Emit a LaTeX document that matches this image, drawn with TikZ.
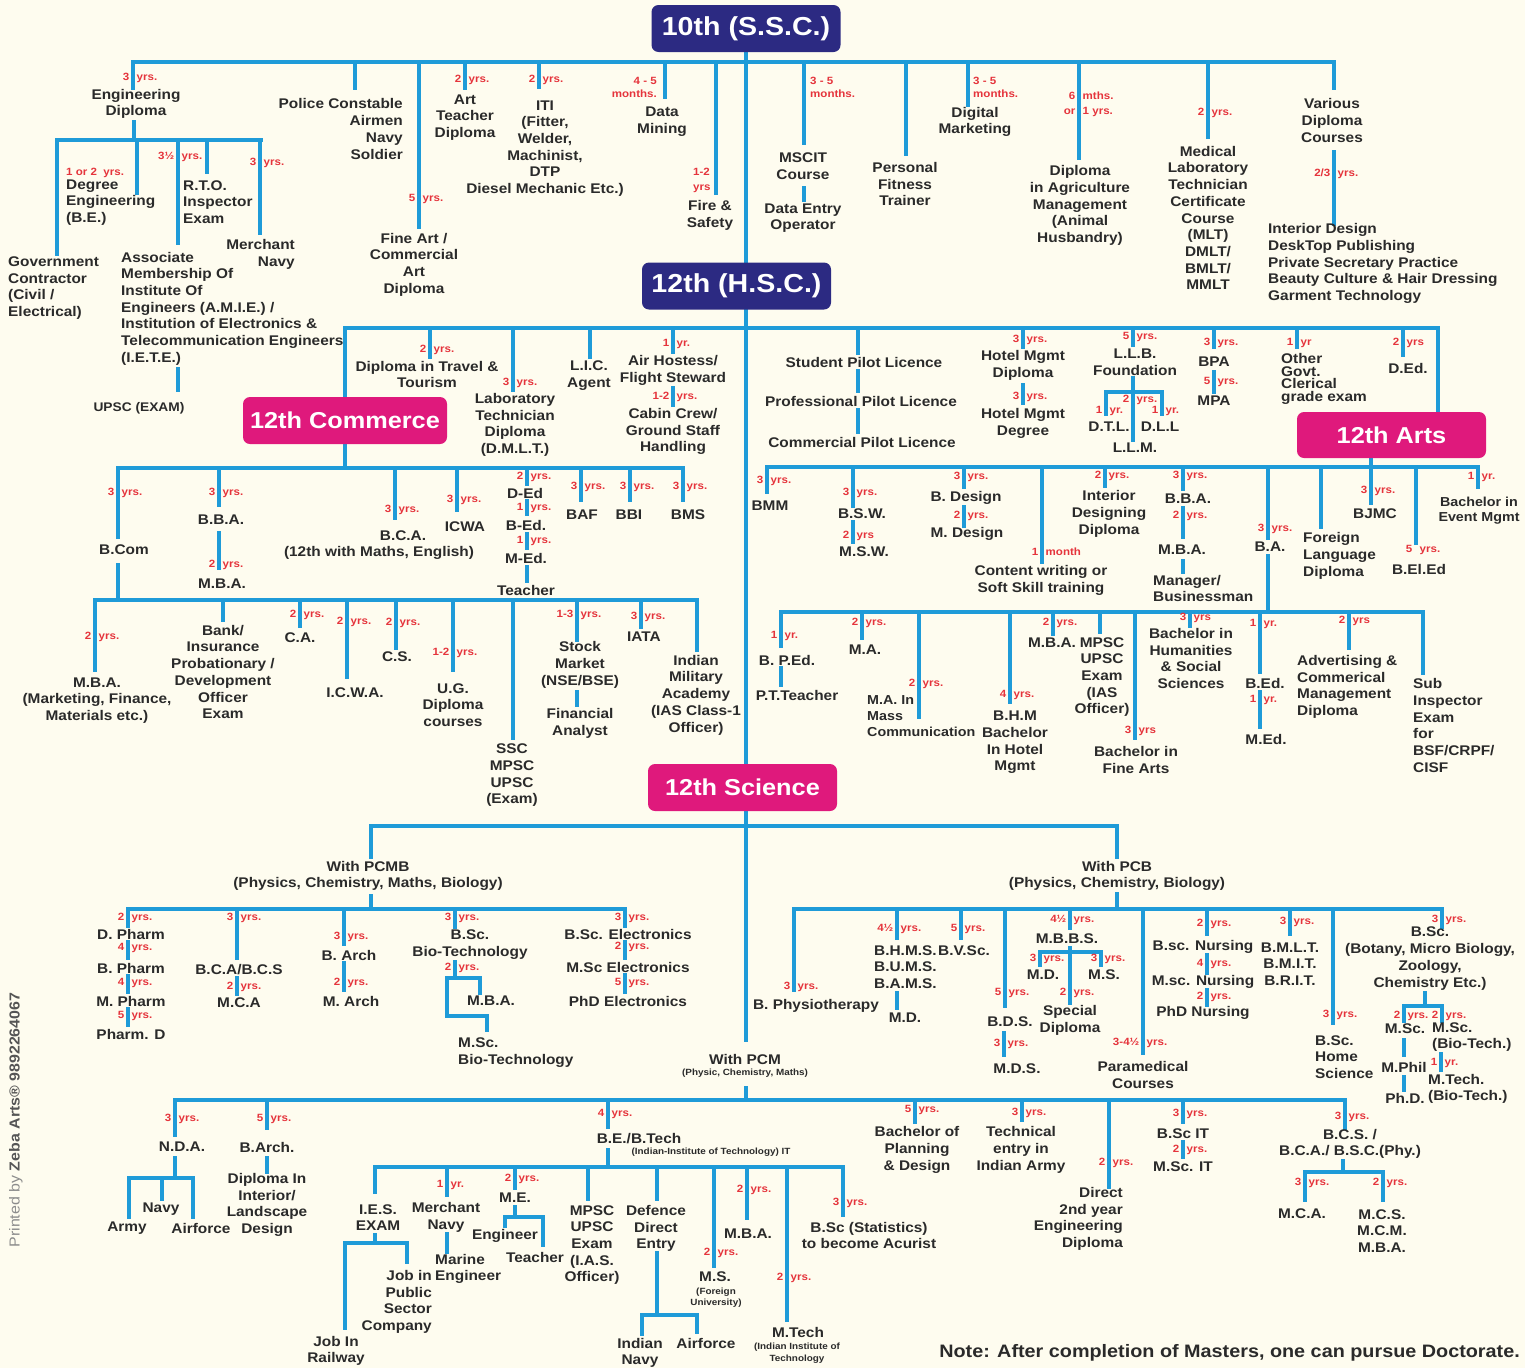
\documentclass[tikz,border=0pt]{standalone}
\usepackage{fontspec}
\setmainfont{Liberation Sans}[FakeStretch=1.1]
\definecolor{lnc}{HTML}{1F9BD8}
\definecolor{txc}{HTML}{2A2A2A}
\definecolor{rdc}{HTML}{E5343C}
\definecolor{nvc}{HTML}{2C2A82}
\definecolor{mgc}{HTML}{DF197C}
\definecolor{bgc}{HTML}{FEFCEF}
\definecolor{grc}{HTML}{8C8C8C}
\definecolor{dgc}{HTML}{555555}
\newcommand\mainf{\fontsize{14}{16.7}\selectfont\bfseries}
\newcommand\redf{\fontsize{10.5}{11.5}\selectfont\bfseries}
\newcommand\tinyf{\fontsize{9}{11.5}\selectfont\bfseries}
\newcommand\boxf{\fontsize{23}{26}\selectfont\bfseries}
\newcommand\bigboxf{\fontsize{26}{30}\selectfont\bfseries}
\newcounter{yc}
\newcommand\yl[4]{\stepcounter{yc}%
  \node[rl,anchor=east] (yn\arabic{yc}) at ({#1-3.5},#2) {#3};%
  \node[rl,anchor=west] (yu\arabic{yc}) at ({#1+3.5},#2) {#4};}
\newcommand\vl[3]{\draw[ln] (#1,#2) -- (#1,#3);}
\newcommand\hl[3]{\draw[ln] (#2,#1) -- (#3,#1);}
\newcommand\tx[5][]{\node[tb,#1] (#2) at (#3,#4) {#5};}
\tikzset{
  ln/.style={draw=lnc,line width=3.6pt,line cap=rect},
  tb/.style={font=\mainf,text=txc,align=center,inner sep=0pt},
  rl/.style={font=\redf,text=rdc,inner sep=0pt,text height=7.5pt,text depth=2pt},
  nbox/.style={fill=nvc,text=white,rounded corners=7pt,font=\bigboxf,minimum width=189pt,minimum height=47pt,inner sep=0pt},
  mbox/.style={fill=mgc,text=white,rounded corners=7pt,font=\boxf,minimum height=47pt,inner sep=0pt}
}
\begin{document}
\begin{tikzpicture}[x=1pt,y=-1pt]
\fill[bgc] (0,0) rectangle (1525,1368);
\useasboundingbox (0,0) rectangle (1525,1368);

% ---------- trunk and top bus
\vl{746}{52}{1040}
\hl{62}{133}{1334}
% Engineering diploma
\vl{133}{62}{88}
\yl{133}{78}{3}{yrs.}
\tx{engd}{136}{104}{Engineering\\Diploma}
\vl{134}{122}{140}
\hl{140}{57}{261}
\vl{57}{140}{254}
\tx[anchor=west,align=left]{govc}{8}{288}{Government\\Contractor\\(Civil /\\Electrical)}
\vl{137}{140}{193}
\node[rl,anchor=west] (deglbl) at (66,173) {1 or 2\ \ yrs.};
\tx[anchor=west,align=left]{degr}{66}{202.5}{Degree\\Engineering\\(B.E.)}
\vl{178}{140}{243}
\yl{178}{157}{3½}{yrs.}
\tx[anchor=west,align=left]{amie}{121}{308.5}{Associate\\Membership Of\\Institute Of\\Engineers (A.M.I.E.) /\\Institution of Electronics \&\\Telecommunication Engineers\\(I.E.T.E.)}
\vl{178}{369}{390}
\tx[font=\fontsize{12.5}{14}\selectfont\bfseries]{upsc1}{139}{408}{UPSC (EXAM)}
\vl{207}{140}{172}
\tx[anchor=west,align=left]{rto}{183}{202}{R.T.O.\\Inspector\\Exam}
\vl{260}{140}{233}
\yl{260}{163}{3}{yrs.}
\tx[anchor=east,align=right]{mnav}{295}{254.5}{Merchant\\Navy}
% other top branches
\vl{355}{62}{88}
\tx[anchor=east,align=right]{police}{403}{129}{Police Constable\\Airmen\\Navy\\Soldier}
\vl{419}{62}{227}
\yl{419}{199}{5}{yrs.}
\tx{fineart}{414}{264.5}{Fine Art /\\Commercial\\Art\\Diploma}
\vl{465}{62}{88}
\yl{465}{80}{2}{yrs.}
\tx{artt}{465}{117.5}{Art\\Teacher\\Diploma}
\vl{539}{62}{87}
\yl{539}{80}{2}{yrs.}
\tx{iti}{545}{148.5}{ITI\\(Fitter,\\Welder,\\Machinist,\\DTP\\Diesel Mechanic Etc.)}
\vl{665}{62}{97}
\node[rl,anchor=east] (dmlbl1) at (657,82) {4 - 5};
\node[rl,anchor=east] (dmlbl2) at (657,95) {months.};
\tx{datam}{662}{121.5}{Data\\Mining}
\vl{716}{62}{193}
\node[rl,anchor=west] (fslbl1) at (693,173) {1-2};
\node[rl,anchor=west] (fslbl2) at (693,188) {yrs};
\tx{fire}{710}{215.5}{Fire \&\\Safety}
\vl{804}{62}{143}
\node[rl,anchor=west] (mslbl1) at (810,82) {3 - 5};
\node[rl,anchor=west] (mslbl2) at (810,95) {months.};
\tx{mscit}{803}{166.5}{MSCIT\\Course}
\vl{804}{188}{200}
\tx{deo}{803}{218}{Data Entry\\Operator}
\vl{906}{62}{154}
\tx{pft}{905}{184}{Personal\\Fitness\\Trainer}
\vl{968}{62}{105}
\node[rl,anchor=west] (dglbl1) at (973,82) {3 - 5};
\node[rl,anchor=west] (dglbl2) at (973,95) {months.};
\tx{digm}{975}{122}{Digital\\Marketing}
\vl{1079}{62}{158}
\yl{1079}{97}{6}{mths.}
\yl{1079}{112}{or}{1 yrs.}
\tx{agri}{1080}{205.5}{Diploma\\in Agriculture\\Management\\(Animal\\Husbandry)}
\vl{1208}{62}{137}
\yl{1208}{113}{2}{yrs.}
\tx{mlt}{1208}{218}{Medical\\Laboratory\\Technician\\Certificate\\Course\\(MLT)\\DMLT/\\BMLT/\\MMLT}
\vl{1334}{62}{88}
\tx{various}{1332}{120.5}{Various\\Diploma\\Courses}
\vl{1334}{152}{224}
\yl{1334}{174}{2/3}{yrs.}
\tx[anchor=west,align=left]{vlist}{1268}{263.5}{Interior Design\\DeskTop Publishing\\Private Secretary Practice\\Beauty Culture \& Hair Dressing\\Garment Technology}

% ---------- HSC bus
\hl{328}{345}{1438}
\vl{345}{328}{468}
\vl{430}{328}{357}
\yl{430}{350}{2}{yrs.}
\tx{travel}{427}{374.5}{Diploma in Travel \&\\Tourism}
\vl{513}{328}{390}
\yl{513}{383}{3}{yrs.}
\tx{dmlt}{515}{425}{Laboratory\\Technician\\Diploma\\(D.M.L.T.)}
\vl{590}{328}{357}
\tx{lic}{589}{375.5}{L.I.C.\\Agent}
\vl{673}{328}{352}
\yl{673}{344}{1}{yr.}
\tx{air}{673}{370.5}{Air Hostess/\\Flight Steward}
\vl{673}{388}{405}
\yl{673}{397}{1-2}{yrs.}
\tx{cabin}{673}{431.5}{Cabin Crew/\\Ground Staff\\Handling}
\vl{858}{328}{353}
\tx{spl}{864}{362}{Student Pilot Licence}
\vl{858}{371}{391}
\tx{ppl}{861}{401}{Professional Pilot Licence}
\vl{858}{410}{432}
\tx{cpl}{862}{442}{Commercial Pilot Licence}
\vl{1023}{328}{347}
\yl{1023}{340}{3}{yrs.}
\tx{hmd}{1023}{365.5}{Hotel Mgmt\\Diploma}
\vl{1023}{385}{403}
\yl{1023}{397}{3}{yrs.}
\tx{hmdg}{1023}{423.5}{Hotel Mgmt\\Degree}
\vl{1133}{328}{345}
\yl{1133}{337}{5}{yrs.}
\tx{llb}{1135}{362}{L.L.B.\\Foundation}
\vl{1133}{378}{440}
\hl{392}{1106}{1162}
\vl{1106}{392}{414}
\vl{1162}{392}{414}
\yl{1133}{400}{2}{yrs.}
\yl{1106}{411}{1}{yr.}
\yl{1162}{411}{1}{yr.}
\tx{dtl}{1109}{427}{D.T.L.}
\tx{dll}{1160}{427}{D.L.L}
\tx{llm}{1135}{448}{L.L.M.}
\vl{1214}{328}{347}
\yl{1214}{343}{3}{yrs.}
\tx{bpa}{1214}{362}{BPA}
\vl{1214}{372}{392}
\yl{1214}{382}{5}{yrs.}
\tx{mpa}{1214}{401}{MPA}
\vl{1297}{328}{347}
\yl{1297}{343}{1}{yr}
\tx[anchor=west,align=left,font=\fontsize{14}{12.7}\selectfont\bfseries]{govt}{1281}{379}{Other\\Govt.\\Clerical\\grade exam}
\vl{1403}{328}{355}
\yl{1403}{343}{2}{yrs}
\tx{ded}{1408}{368}{D.Ed.}
\vl{1438}{328}{412}

% ---------- Commerce
\hl{468}{118}{683}
\vl{118}{468}{537}
\yl{118}{493}{3}{yrs.}
\tx{bcom}{124}{550}{B.Com}
\vl{118}{565}{600}
\vl{219}{468}{505}
\yl{219}{493}{3}{yrs.}
\tx{bba1}{221}{520}{B.B.A.}
\vl{219}{533}{568}
\yl{219}{565}{2}{yrs.}
\tx{mba1}{222}{584}{M.B.A.}
\vl{395}{468}{518}
\yl{395}{510}{3}{yrs.}
\tx{bca}{403}{536}{B.C.A.}
\tx{bcan}{379}{553}{(12th with Maths, English)}
\vl{457}{468}{510}
\yl{457}{500}{3}{yrs.}
\tx{icwa}{465}{527}{ICWA}
\vl{527}{468}{484}
\yl{527}{477}{2}{yrs.}
\tx{ded2}{525}{493}{D-Ed}
\vl{527}{501}{514}
\yl{527}{508}{1}{yrs.}
\tx{bed2}{526}{525}{B-Ed.}
\vl{527}{534}{548}
\yl{527}{541}{1}{yrs.}
\tx{med2}{526}{558}{M-Ed.}
\vl{527}{567}{581}
\tx{teach1}{526}{590}{Teacher}
\vl{581}{468}{500}
\yl{581}{487}{3}{yrs.}
\tx{baf}{582}{515}{BAF}
\vl{630}{468}{500}
\yl{630}{487}{3}{yrs.}
\tx{bbi}{629}{515}{BBI}
\vl{683}{468}{500}
\yl{683}{487}{3}{yrs.}
\tx{bms}{688}{515}{BMS}
\hl{600}{95}{697}
\vl{95}{600}{670}
\yl{95}{637}{2}{yrs.}
\tx{mba2}{97}{700.5}{M.B.A.\\(Marketing, Finance,\\Materials etc.)}
\vl{223}{600}{620}
\tx{bank}{223}{672}{Bank/\\Insurance\\Probationary /\\Development\\Officer\\Exam}
\vl{300}{600}{626}
\yl{300}{615}{2}{yrs.}
\tx{ca}{300}{638}{C.A.}
\vl{347}{600}{677}
\yl{347}{622}{2}{yrs.}
\tx{icwa2}{355}{693}{I.C.W.A.}
\vl{396}{600}{648}
\yl{396}{623}{2}{yrs.}
\tx{cs}{397}{657}{C.S.}
\vl{453}{600}{670}
\yl{453}{653}{1-2}{yrs.}
\tx{ug}{453}{705}{U.G.\\Diploma\\courses}
\vl{513}{600}{738}
\tx{sscx}{512}{775.5}{SSC\\MPSC\\UPSC\\(Exam)}
\vl{577}{600}{640}
\yl{577}{615}{1-3}{yrs.}
\tx{stock}{580}{665}{Stock\\Market\\(NSE/BSE)}
\vl{577}{692}{705}
\tx{fin}{580}{723.5}{Financial\\Analyst}
\vl{641}{600}{627}
\yl{641}{617}{3}{yrs.}
\tx{iata}{644}{637}{IATA}
\vl{697}{600}{650}
\tx{ima}{696}{695}{Indian\\Military\\Academy\\(IAS Class-1\\Officer)}

% ---------- Arts
\vl{1371}{458}{503}
\hl{467}{767}{1478}
\vl{767}{467}{492}
\yl{767}{481}{3}{yrs.}
\tx{bmm}{770}{506}{BMM}
\vl{853}{467}{506}
\yl{853}{493}{3}{yrs.}
\tx{bsw}{862}{514}{B.S.W.}
\vl{853}{522}{542}
\yl{853}{536}{2}{yrs}
\tx{msw}{864}{552}{M.S.W.}
\vl{964}{467}{487}
\yl{964}{477}{3}{yrs.}
\tx{bdes}{966}{498}{B. Design}
\vl{964}{507}{526}
\yl{964}{516}{2}{yrs.}
\tx{mdes}{967}{534}{M. Design}
\vl{1042}{467}{562}
\yl{1042}{553}{1}{month}
\tx{content}{1041}{580.5}{Content writing or\\Soft Skill training}
\vl{1105}{467}{486}
\yl{1105}{476}{2}{yrs.}
\tx{intd}{1109}{514}{Interior\\Designing\\Diploma}
\vl{1183}{467}{489}
\yl{1183}{476}{3}{yrs.}
\tx{bba2}{1188}{499}{B.B.A.}
\vl{1183}{508}{537}
\yl{1183}{516}{2}{yrs.}
\tx{mba3}{1182}{550}{M.B.A.}
\vl{1183}{561}{572}
\tx[anchor=west,align=left]{mgr}{1153}{588.5}{Manager/\\Businessman}
\vl{1268}{467}{538}
\yl{1268}{529}{3}{yrs.}
\tx{ba}{1270}{547}{B.A.}
\vl{1268}{556}{612}
\vl{1321}{467}{527}
\tx[anchor=west,align=left]{fld}{1303}{556}{Foreign\\Language\\Diploma}
\yl{1371}{491}{3}{yrs.}
\tx{bjmc}{1375}{514}{BJMC}
\vl{1416}{467}{543}
\yl{1416}{550}{5}{yrs.}
\tx{beled}{1419}{569}{B.El.Ed}
\vl{1478}{467}{487}
\yl{1478}{477}{1}{yr.}
\tx[font=\fontsize{13}{15}\selectfont\bfseries]{event}{1479}{510.5}{Bachelor in\\Event Mgmt}
\hl{612}{781}{1423}
\vl{781}{612}{646}
\yl{781}{636}{1}{yr.}
\tx{bped}{787}{660}{B. P.Ed.}
\vl{781}{668}{685}
\tx{ptt}{797}{695}{P.T.Teacher}
\vl{862}{612}{638}
\yl{862}{623}{2}{yrs.}
\tx{mama}{865}{650}{M.A.}
\vl{919}{612}{717}
\yl{919}{684}{2}{yrs.}
\tx[anchor=west,align=left,font=\fontsize{13}{15.8}\selectfont\bfseries]{mamc}{867}{716}{M.A. In\\Mass\\Communication}
\vl{1010}{612}{702}
\yl{1010}{695}{4}{yrs.}
\tx{bhm}{1015}{742.5}{B.H.M\\Bachelor\\In Hotel\\Mgmt}
\vl{1053}{612}{634}
\yl{1053}{623}{2}{yrs.}
\tx{mba4}{1052}{643}{M.B.A.}
\vl{1100}{612}{632}
\tx{mpsc2}{1102}{677}{MPSC\\UPSC\\Exam\\(IAS\\Officer)}
\vl{1135}{612}{738}
\yl{1135}{731}{3}{yrs}
\tx{bfa}{1136}{760}{Bachelor in\\Fine Arts}
\vl{1190}{612}{626}
\yl{1190}{618}{3}{yrs}
\tx{bhss}{1191}{658.5}{Bachelor in\\Humanities\\\& Social\\Sciences}
\vl{1260}{612}{672}
\yl{1260}{624}{1}{yr.}
\tx{bed3}{1265}{683}{B.Ed.}
\vl{1260}{692}{727}
\yl{1260}{700}{1}{yr.}
\tx{med3}{1266}{739}{M.Ed.}
\vl{1349}{612}{648}
\yl{1349}{621}{2}{yrs}
\tx[anchor=west,align=left]{adv}{1297}{687}{Advertising \&\\Commerical\\Management\\Diploma}
\vl{1423}{612}{673}
\tx[anchor=west,align=left]{subi}{1413}{725.5}{Sub\\Inspector\\Exam\\for\\BSF/CRPF/\\CISF}

% ---------- Science
\hl{826}{371}{1117}
\vl{371}{826}{857}
\tx{pcmb}{368}{876}{With PCMB\\(Physics, Chemistry, Maths, Biology)}
\vl{371}{896}{909}
\vl{1117}{826}{857}
\tx{pcb}{1117}{876}{With PCB\\(Physics, Chemistry, Biology)}
\vl{1117}{894}{909}
% PCMB
\hl{909}{128}{625}
\vl{128}{909}{926}
\yl{128}{918}{2}{yrs.}
\tx{dph}{131}{934}{D. Pharm}
\vl{128}{942}{958}
\yl{128}{948}{4}{yrs.}
\tx{bph}{131}{968}{B. Pharm}
\vl{128}{976}{992}
\yl{128}{983}{4}{yrs.}
\tx{mph}{131}{1001}{M. Pharm}
\vl{128}{1009}{1025}
\yl{128}{1016}{5}{yrs.}
\tx{pharmd}{131}{1034}{Pharm. D}
\vl{237}{909}{958}
\yl{237}{918}{3}{yrs.}
\tx{bcabcs}{239}{970}{B.C.A/B.C.S}
\vl{237}{978}{994}
\yl{237}{987}{2}{yrs.}
\tx{mca1}{239}{1003}{M.C.A}
\vl{344}{909}{944}
\yl{344}{937}{3}{yrs.}
\tx{barch}{349}{955}{B. Arch}
\vl{344}{963}{990}
\yl{344}{983}{2}{yrs.}
\tx{march}{351}{1001}{M. Arch}
\vl{455}{909}{927}
\yl{455}{918}{3}{yrs.}
\tx{bscbt}{470}{944.5}{B.Sc.\\Bio-Technology}
\vl{455}{962}{978}
\yl{455}{968}{2}{yrs.}
\hl{978}{447}{480}
\vl{480}{978}{993}
\tx{mba5}{491}{1001}{M.B.A.}
\vl{447}{978}{1016}
\hl{1016}{447}{487}
\vl{487}{1016}{1030}
\tx[anchor=west,align=left]{mscbt}{458}{1052.5}{M.Sc.\\Bio-Technology}
\vl{625}{909}{926}
\yl{625}{918}{3}{yrs.}
\tx{bsce}{628}{934}{B.Sc. Electronics}
\vl{625}{942}{958}
\yl{625}{947}{2}{yrs.}
\tx{msce}{628}{967}{M.Sc Electronics}
\vl{625}{975}{992}
\yl{625}{983}{5}{yrs.}
\tx{phde}{628}{1001}{PhD Electronics}
% PCB
\hl{909}{794}{1442}
\vl{794}{909}{990}
\yl{794}{987}{3}{yrs.}
\tx{physio}{816}{1006}{B. Physiotherapy}
\vl{897}{909}{938}
\yl{897}{929}{4½}{yrs.}
\tx[anchor=west,align=left]{bhms}{874}{967}{B.H.M.S.\\B.U.M.S.\\B.A.M.S.}
\vl{897}{993}{1008}
\tx{md1}{905}{1018}{M.D.}
\vl{961}{909}{938}
\yl{961}{929}{5}{yrs.}
\tx{bvsc}{964}{951}{B.V.Sc.}
\vl{1005}{909}{1006}
\yl{1005}{993}{5}{yrs.}
\tx{bds}{1010}{1022}{B.D.S.}
\vl{1004}{1033}{1055}
\yl{1004}{1044}{3}{yrs.}
\tx{mds}{1017}{1069}{M.D.S.}
\vl{1070}{909}{928}
\yl{1070}{920}{4½}{yrs.}
\tx{mbbs}{1067}{939}{M.B.B.S.}
\vl{1070}{948}{1003}
\hl{952}{1040}{1101}
\vl{1040}{952}{965}
\vl{1101}{952}{965}
\yl{1040}{959}{3}{yrs.}
\yl{1101}{959}{3}{yrs.}
\tx{md2}{1043}{975}{M.D.}
\tx{ms}{1104}{975}{M.S.}
\yl{1070}{993}{2}{yrs.}
\tx{spd}{1070}{1020.5}{Special\\Diploma}
\vl{1143}{909}{1053}
\yl{1143}{1043}{3-4½}{yrs.}
\tx{para}{1143}{1075}{Paramedical\\Courses}
\vl{1207}{909}{934}
\yl{1207}{924}{2}{yrs.}
\tx{bscn}{1203}{947}{B.sc. Nursing}
\vl{1207}{955}{973}
\yl{1207}{964}{4}{yrs.}
\tx{mscn}{1203}{982}{M.sc. Nursing}
\vl{1207}{990}{1005}
\yl{1207}{997}{2}{yrs.}
\tx{phdn}{1203}{1013}{PhD Nursing}
\vl{1290}{909}{934}
\yl{1290}{922}{3}{yrs.}
\tx{bmlt}{1290}{964}{B.M.L.T.\\B.M.I.T.\\B.R.I.T.}
\vl{1333}{909}{1023}
\yl{1333}{1015}{3}{yrs.}
\tx[anchor=west,align=left]{home}{1315}{1057}{B.Sc.\\Home\\Science}
\vl{1442}{909}{927}
\yl{1442}{920}{3}{yrs.}
\tx{bscbot}{1430}{958.5}{B.Sc.\\(Botany, Micro Biology,\\Zoology,\\Chemistry Etc.)}
\vl{1425}{993}{1006}
\hl{1006}{1404}{1442}
\vl{1404}{1006}{1021}
\vl{1442}{1006}{1021}
\yl{1404}{1016}{2}{yrs.}
\yl{1442}{1016}{2}{yrs.}
\tx{msc1}{1405}{1029}{M.Sc.}
\vl{1404}{1040}{1055}
\tx{mphil}{1404}{1067}{M.Phil}
\vl{1404}{1077}{1090}
\tx{phd2}{1405}{1098}{Ph.D.}
\tx[anchor=west,align=left]{mscbt2}{1432}{1037}{M.Sc.\\(Bio-Tech.)}
\vl{1441}{1054}{1070}
\yl{1441}{1063}{1}{yr.}
\tx[anchor=west,align=left]{mtbt}{1428}{1089}{M.Tech.\\(Bio-Tech.)}

% ---------- With PCM
\tx{pcm}{745}{1059}{With PCM}
\tx[font=\tinyf]{pcms}{745}{1073}{(Physic, Chemistry, Maths)}
\vl{746}{1088}{1100}
\hl{1100}{175}{1345}
\vl{175}{1100}{1135}
\yl{175}{1119}{3}{yrs.}
\tx{nda}{182}{1147}{N.D.A.}
\vl{175}{1158}{1178}
\hl{1178}{129}{193}
\vl{129}{1178}{1217}
\vl{162}{1178}{1199}
\vl{193}{1178}{1217}
\tx{army}{127}{1228}{Army}
\tx{navy1}{161}{1209}{Navy}
\tx{airf1}{201}{1228}{Airforce}
\vl{267}{1100}{1128}
\yl{267}{1119}{5}{yrs.}
\tx{barch2}{267}{1147}{B.Arch.}
\vl{267}{1158}{1172}
\tx{dipint}{267}{1205}{Diploma In\\Interior/\\Landscape\\Design}
\vl{608}{1100}{1127}
\yl{608}{1114}{4}{yrs.}
\tx{betech}{639}{1139}{B.E./B.Tech}
\tx[font=\tinyf]{iit1}{711}{1152}{(Indian-Institute of Technology) IT}
\vl{608}{1150}{1167}
\vl{915}{1100}{1122}
\yl{915}{1110}{5}{yrs.}
\tx{bplan}{917}{1150}{Bachelor of\\Planning\\\& Design}
\vl{1022}{1100}{1120}
\yl{1022}{1113}{3}{yrs.}
\tx{techentry}{1021}{1150}{Technical\\entry in\\Indian Army}
\vl{1109}{1100}{1187}
\yl{1109}{1163}{2}{yrs.}
\tx[anchor=east,align=right]{direct}{1123}{1219}{Direct\\2nd year\\Engineering\\Diploma}
\vl{1183}{1100}{1122}
\yl{1183}{1114}{3}{yrs.}
\tx{bscit}{1183}{1134}{B.Sc IT}
\vl{1183}{1142}{1157}
\yl{1183}{1150}{2}{yrs.}
\tx{mscit2}{1183}{1167}{M.Sc. IT}
\vl{1345}{1100}{1128}
\yl{1345}{1117}{3}{yrs.}
\tx{bcs2}{1350}{1144}{B.C.S. /\\B.C.A./ B.S.C.(Phy.)}
\vl{1343}{1161}{1172}
\hl{1172}{1305}{1383}
\vl{1305}{1172}{1200}
\vl{1383}{1172}{1200}
\yl{1305}{1183}{3}{yrs.}
\yl{1383}{1183}{2}{yrs.}
\tx{mca2}{1302}{1214}{M.C.A.}
\tx{mcs}{1382}{1231}{M.C.S.\\M.C.M.\\M.B.A.}
% B.E./B.Tech bus
\hl{1167}{375}{843}
\vl{375}{1167}{1192}
\tx{ies}{378}{1217.5}{I.E.S.\\EXAM}
\vl{375}{1235}{1243}
\hl{1243}{345}{407}
\vl{345}{1243}{1328}
\tx{rail}{336}{1351}{Job In\\Railway}
\vl{407}{1243}{1262}
\tx[anchor=east,align=right]{psu}{432}{1302}{Job in\\Public\\Sector\\Company}
\vl{447}{1167}{1195}
\yl{447}{1185}{1}{yr.}
\tx{mnav2}{446}{1217.5}{Merchant\\Navy}
\vl{447}{1234}{1252}
\tx[anchor=west,align=left]{marine}{435}{1269}{Marine\\Engineer}
\vl{515}{1167}{1188}
\yl{515}{1179}{2}{yrs.}
\tx{me}{515}{1198}{M.E.}
\vl{515}{1207}{1217}
\hl{1217}{505}{543}
\vl{505}{1217}{1226}
\vl{543}{1217}{1245}
\tx{engr}{505}{1236}{Engineer}
\tx{teach2}{535}{1257}{Teacher}
\vl{588}{1167}{1199}
\tx{mpsc3}{592}{1245}{MPSC\\UPSC\\Exam\\(I.A.S.\\Officer)}
\vl{657}{1167}{1199}
\tx{defn}{656}{1228.5}{Defence\\Direct\\Entry}
\vl{657}{1253}{1315}
\hl{1315}{642}{697}
\vl{642}{1315}{1334}
\vl{697}{1315}{1332}
\tx{inavy}{640}{1353}{Indian\\Navy}
\tx{airf2}{706}{1343}{Airforce}
\vl{714}{1167}{1266}
\yl{714}{1253}{2}{yrs.}
\tx{ms2}{715}{1277}{M.S.}
\tx[font=\tinyf]{fu}{716}{1297.5}{(Foreign\\University)}
\vl{747}{1167}{1218}
\yl{747}{1190}{2}{yrs.}
\tx{mba6}{748}{1234}{M.B.A.}
\vl{787}{1167}{1320}
\yl{787}{1278}{2}{yrs.}
\tx{mtech}{798}{1332}{M.Tech}
\tx[font=\tinyf]{iit2}{797}{1353}{(Indian Institute of\\Technology}
\vl{843}{1167}{1215}
\yl{843}{1203}{3}{yrs.}
\tx{bstat}{869}{1235.5}{B.Sc (Statistics)\\to become Acurist}

% ---------- boxes
\node[nbox] (ssc) at (746,28.5) {10th (S.S.C.)};
\node[nbox] (hsc) at (736.5,286) {12th (H.S.C.)};
\node[mbox,minimum width=204pt] (comm) at (345,420.5) {12th Commerce};
\node[mbox,minimum width=189pt,minimum height=46pt] (arts) at (1391.5,435) {12th Arts};
\node[mbox,minimum width=189pt] (sci) at (742.5,787.5) {12th Science};

% ---------- note and imprint
\node[anchor=east,inner sep=0pt,text=txc,font=\fontsize{18}{20}\selectfont\bfseries] (note) at (1520,1353) {Note: After completion of Masters, one can pursue Doctorate.};
\node[rotate=90,inner sep=0pt,font=\fontsize{14.5}{17}\selectfont] (printed) at (16,1120) {\textcolor{grc}{Printed by} \textcolor{dgc}{\bfseries Zeba Arts® 9892264067}};
\end{tikzpicture}
\end{document}
